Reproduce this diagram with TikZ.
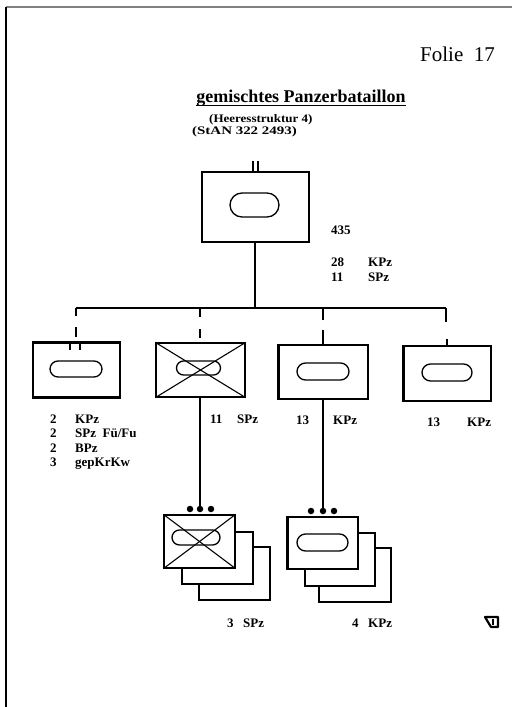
\documentclass[tikz,border=0pt]{standalone}
\usepackage{fontspec}
\setmainfont{Liberation Serif}
\begin{document}
\begin{tikzpicture}[x=1pt,y=-1pt,
  unitbox/.style={draw, line width=1.1pt, fill=white, inner sep=0pt},
  pill/.style={draw, line width=1.3pt, rounded corners=#1, inner sep=0pt},
  conn/.style={line width=1.1pt},
  thickedge/.style={line width=3pt},
  lbl/.style={font=\bfseries\fontsize{13}{15}\selectfont, inner sep=0pt, anchor=base west},
  sublbl/.style={font=\bfseries\fontsize{11.5}{13}\selectfont, inner sep=0pt, anchor=base west},
  dotc/.style={circle, fill=black, inner sep=0pt, minimum size=6.5pt}]
\fill[white] (0,0) rectangle (512,707);
\useasboundingbox (0,0) rectangle (512,707);
% page edges
\draw[gray, line width=1.5pt] (6,7) -- (512,7);
\draw[line width=1.3pt] (6,7) -- (6,707);

% headings
\node[font=\fontsize{21}{24}\selectfont, inner sep=0pt, anchor=base west] (folie) at (420,61) {Folie\ \ 17};
\node[font=\bfseries\fontsize{18}{20}\selectfont, inner sep=0pt, anchor=base] (title) at (301,102) {gemischtes Panzerbataillon};
\draw[line width=1pt] (title.base west) ++(0,3) coordinate (ulL) -- (title.base east |- ulL);
\node[sublbl] (hs) at (209,122.5) {\scalebox{1.13}[1]{(Heeresstruktur 4)}};
\node[sublbl] (stan) at (192,134) {\scalebox{1.3}[1]{(StAN 322 2493)}};

% top unit
\node[unitbox, minimum width=107pt, minimum height=70pt] (top) at (255.5,207) {};
\node[pill=12pt, minimum width=49pt, minimum height=24pt] (topo) at (254.5,205) {};
\coordinate (tk1) at (253,161);
\coordinate (tk2) at (258,161);
\draw[conn] (tk1) -- (tk1 |- top.north);
\draw[conn] (tk2) -- (tk2 |- top.north);
\node[lbl] (n435) at (331,234) {435};
\node[lbl] (n28) at (331,266) {28};
\node[lbl] (k28) at (368,266) {KPz};
\node[lbl] (n11) at (331,281) {11};
\node[lbl] (s11) at (368,281) {SPz};

% bus
\coordinate (busL) at (76,308);
\coordinate (busR) at (446,308);
\coordinate (busT) at (255,308);
\draw[conn] (busL) -- (busR);
\draw[conn] (busT |- top.south) -- (busT);

% company boxes
\node[unitbox, minimum width=87pt, minimum height=54pt] (b1) at (76.5,370) {};
\node[pill=8pt, minimum width=52pt, minimum height=16pt] (b1o) at (76,369) {};
\draw[thickedge] (b1.north west) -- (b1.north east);
\draw[thickedge] (b1.south west) -- (b1.south east);
\coordinate (t1a) at (70,350);
\coordinate (t1b) at (80,350);
\draw[conn] (t1a |- b1.north) -- (t1a);
\draw[conn] (t1b |- b1.north) -- (t1b);

\node[unitbox, minimum width=89pt, minimum height=54pt] (b2) at (200.5,370) {};
\node[pill=7pt, minimum width=44pt, minimum height=14pt] (b2o) at (198.5,368) {};
\draw[conn] (b2.north west) -- (b2.south east);
\draw[conn] (b2.north east) -- (b2.south west);

\node[unitbox, minimum width=90pt, minimum height=54pt] (b3) at (323,372) {};
\node[pill=8.5pt, minimum width=52pt, minimum height=17pt] (b3o) at (323,371.5) {};
\draw[thickedge] ([xshift=1pt]b3.north west) -- ([xshift=1pt]b3.south west);

\node[unitbox, minimum width=88pt, minimum height=55pt] (b4) at (447,373.5) {};
\node[pill=8.5pt, minimum width=50pt, minimum height=17pt] (b4o) at (447,372.5) {};
\draw[thickedge] ([xshift=1pt]b4.north west) -- ([xshift=1pt]b4.south west);

% drops from bus
\coordinate (d1a) at (76,316);
\coordinate (d1b) at (76,327);
\coordinate (d1c) at (76,337);
\draw[conn] (busL) -- (d1a);
\draw[conn] (d1b) -- (d1c);
\coordinate (d2) at (200,308);
\coordinate (d2a) at (200,317);
\coordinate (d2b) at (200,329);
\coordinate (d2c) at (200,338);
\draw[conn] (d2) -- (d2a);
\draw[conn] (d2b) -- (d2c);
\coordinate (d3) at (323,308);
\coordinate (d3a) at (323,320);
\coordinate (d3b) at (323,330);
\draw[conn] (d3) -- (d3a);
\draw[conn] (d3b) -- (b3.north);
\coordinate (d4a) at (446,322);
\coordinate (d4b) at (447,339);
\draw[conn] (busR) -- (d4a);
\draw[conn] (d4b) -- (d4b |- b4.north);

% labels under boxes
\node[lbl] (l1n) at (50,423) {2};
\node[lbl] (l1t) at (75,423) {KPz};
\node[lbl] (l2n) at (50,437.5) {2};
\node[lbl] (l2t) at (75,437.5) {SPz\ \ Fü/Fu};
\node[lbl] (l3n) at (50,452) {2};
\node[lbl] (l3t) at (75,452) {BPz};
\node[lbl] (l4n) at (50,466.5) {3};
\node[lbl] (l4t) at (75,466.5) {gepKrKw};
\node[lbl] (m1n) at (210,423) {11};
\node[lbl] (m1t) at (237,423) {SPz};
\node[lbl] (m2n) at (296,424) {13};
\node[lbl] (m2t) at (333,424) {KPz};
\node[lbl] (m3n) at (427,426) {13};
\node[lbl] (m3t) at (467,426) {KPz};

% platoon stacks: crossed
\node[unitbox, minimum width=71pt, minimum height=53pt] (s1c) at (234.5,573.5) {};
\node[unitbox, minimum width=71pt, minimum height=52pt] (s1b) at (217.5,558) {};
\node[unitbox, minimum width=71pt, minimum height=53pt] (s1a) at (199.5,541.5) {};
\node[pill=7.5pt, minimum width=48pt, minimum height=15pt] (s1o) at (196,537.5) {};
\draw[conn] (s1a.north west) -- (s1a.south east);
\draw[conn] (s1a.north east) -- (s1a.south west);
\node[dotc] (p1) at (190,509) {};
\node[dotc] (p2) at (200,509) {};
\node[dotc] (p3) at (211,509) {};
\draw[conn] (p2 |- b2.south) -- ([yshift=-3pt]p2.north);

% platoon stacks: tanks
\node[unitbox, minimum width=72pt, minimum height=54pt] (s2c) at (355,575) {};
\node[unitbox, minimum width=70pt, minimum height=53pt] (s2b) at (340,559.5) {};
\node[unitbox, minimum width=71pt, minimum height=52pt] (s2a) at (322.5,543) {};
\node[pill=8.5pt, minimum width=51pt, minimum height=17pt] (s2o) at (322.5,542.5) {};
\draw[thickedge] ([xshift=1pt]s2a.north west) -- ([xshift=1pt]s2a.south west);
\node[dotc] (q1) at (311,511) {};
\node[dotc] (q2) at (323,511) {};
\node[dotc] (q3) at (334,511) {};
\draw[conn] (q2 |- b3.south) -- ([yshift=-3pt]q2.north);

\node[lbl] (s1n) at (227,627) {3};
\node[lbl] (s1t) at (243,627) {SPz};
\node[lbl] (s2n) at (352,627) {4};
\node[lbl] (s2t) at (368,627) {KPz};

% cut-off mark at the right edge
\draw[line width=2.2pt, line join=round] (485,617) -- (498,617) -- (498,627) -- (491,627) -- cycle;
\draw[line width=1.5pt] (493,619) -- (493,625);
\end{tikzpicture}
\end{document}
